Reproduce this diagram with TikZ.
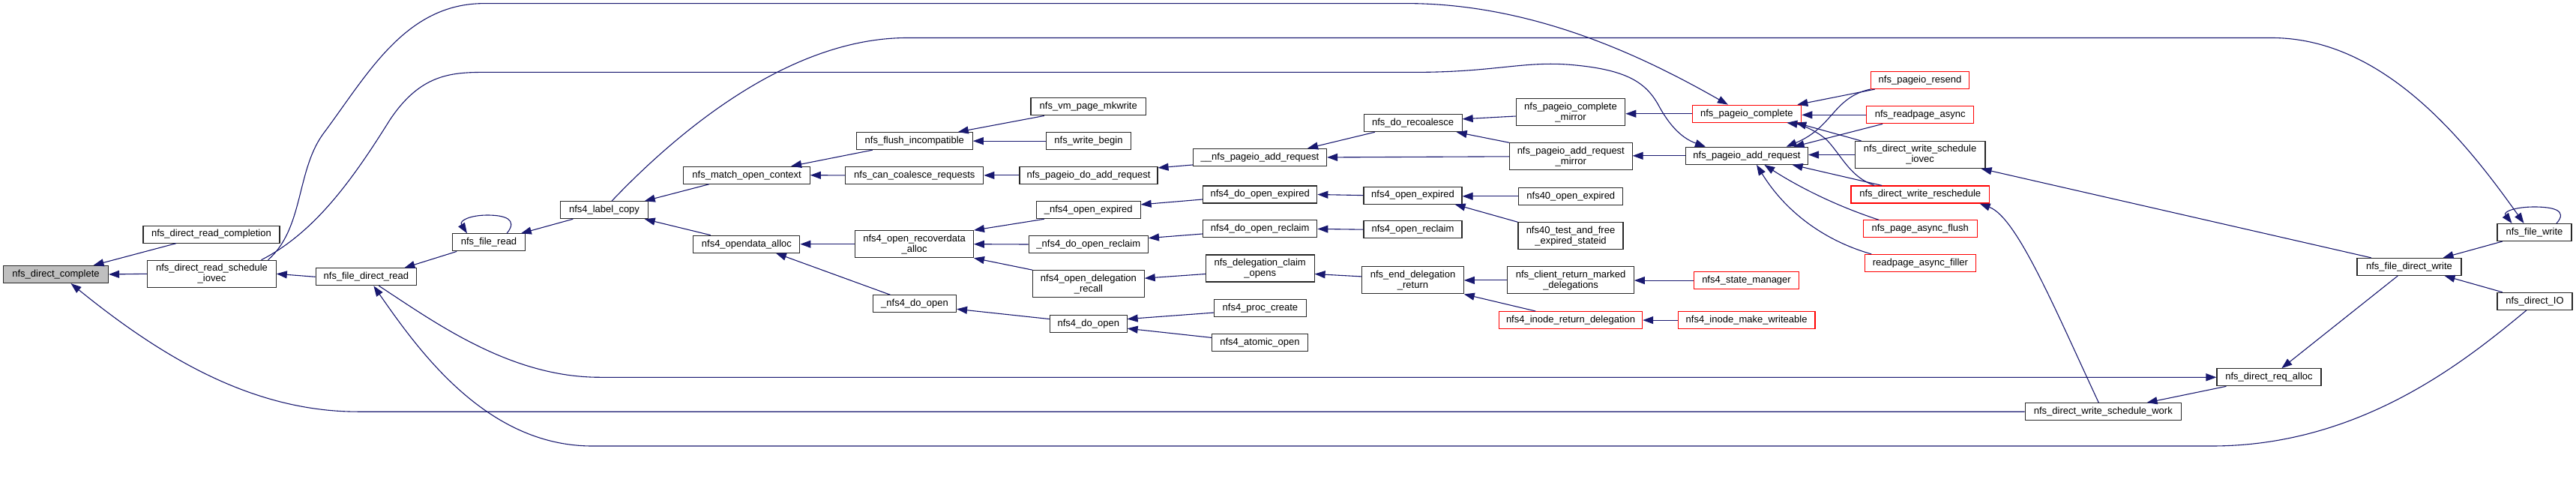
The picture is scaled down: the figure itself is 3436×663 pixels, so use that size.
\documentclass[tikz,border=0pt]{standalone}
\usepackage{fontspec}
\setmainfont{Liberation Sans}
\usetikzlibrary{arrows.meta}
\definecolor{edgeblue}{RGB}{25,25,112}
\definecolor{rootgray}{RGB}{191,191,191}
\definecolor{boxline}{RGB}{40,40,40}
\newcommand\nodefont{\fontsize{13pt}{14pt}\selectfont}
\tikzset{
  nd/.style={draw=boxline, line width=1.1pt, fill=white, inner sep=0pt, minimum height=23pt, font=\nodefont, text=black, align=center},
  nd2/.style={nd, minimum height=36pt},
  rd/.style={nd, draw=red},
  rootnd/.style={nd, fill=rootgray},
  e/.style={draw=edgeblue, line width=1.1pt, -{Triangle[length=14pt,width=10pt]}}
}
\begin{document}
\begin{tikzpicture}[x=1pt,y=-1pt]
\useasboundingbox[fill=white] (0,0) rectangle (3436,663);
% nodes
\node[rootnd, minimum width=140pt] (dc) at (74.5,366) {nfs\_direct\_complete};
\node[nd, minimum width=182pt] (rc) at (282,312.6) {nfs\_direct\_read\_completion};
\node[nd2, minimum width=171.5pt] (rsi) at (282.5,365.3) {nfs\_direct\_read\_schedule\\\_iovec};
\node[nd, minimum width=134.7pt] (fdr) at (488.4,369.3) {nfs\_file\_direct\_read};
\node[nd, minimum width=96.5pt] (fr) at (652,323.4) {nfs\_file\_read};
\node[nd, minimum width=116.4pt] (lc) at (806,280.2) {nfs4\_label\_copy};
\node[nd, minimum width=168.4pt] (moc) at (996.1,233.7) {nfs\_match\_open\_context};
\node[nd, minimum width=142pt] (oda) at (995.9,325.7) {nfs4\_opendata\_alloc};
\node[nd, minimum width=155pt] (fi) at (1219.8,188.1) {nfs\_flush\_incompatible};
\node[nd, minimum width=184pt] (cc) at (1219.8,233.9) {nfs\_can\_coalesce\_requests};
\node[nd2, minimum width=157.6pt] (ra) at (1219.6,325.7) {nfs4\_open\_recoverdata\\\_alloc};
\node[nd, minimum width=111pt] (ud) at (1220,405.3) {\_nfs4\_do\_open};
\node[nd, minimum width=153.5pt] (mk) at (1451.7,142.4) {nfs\_vm\_page\_mkwrite};
\node[nd, minimum width=113.6pt] (wb) at (1452,188.1) {nfs\_write\_begin};
\node[nd, minimum width=184pt] (da) at (1452,233.9) {nfs\_pageio\_do\_add\_request};
\node[nd, minimum width=138.6pt] (uoe) at (1451.8,280.2) {\_nfs4\_open\_expired};
\node[nd, minimum width=159.2pt] (udor) at (1451.8,326) {\_nfs4\_do\_open\_reclaim};
\node[nd2, minimum width=148.5pt] (dr) at (1451.9,378.7) {nfs4\_open\_delegation\\\_recall};
\node[nd, minimum width=102.6pt] (ndo) at (1451.8,432.1) {nfs4\_do\_open};
\node[nd, minimum width=178pt] (ua) at (1680.5,209.9) {\_\_nfs\_pageio\_add\_request};
\node[nd, minimum width=152.3pt] (doe) at (1680.7,259.5) {nfs4\_do\_open\_expired};
\node[nd, minimum width=152.3pt] (dor) at (1680.7,305.4) {nfs4\_do\_open\_reclaim};
\node[nd2, minimum width=144.7pt] (co) at (1680.7,358) {nfs\_delegation\_claim\\\_opens};
\node[nd, minimum width=122.9pt] (pcr) at (1680.9,411.4) {nfs4\_proc\_create};
\node[nd, minimum width=128.2pt] (ao) at (1680.5,457.3) {nfs4\_atomic\_open};
\node[nd, minimum width=131pt] (rec) at (1884.6,164.2) {nfs\_do\_recoalesce};
\node[nd2, minimum width=145.5pt] (cm) at (2095,149.6) {nfs\_pageio\_complete\\\_mirror};
\node[nd2, minimum width=163.5pt] (arm) at (2095.3,208.8) {nfs\_pageio\_add\_request\\\_mirror};
\node[rd, minimum width=145.7pt] (pc) at (2329.9,151.7) {nfs\_pageio\_complete};
\node[nd, minimum width=163pt] (par) at (2330,207.8) {nfs\_pageio\_add\_request};
\node[nd, minimum width=131pt] (noe) at (1884.5,260.6) {nfs4\_open\_expired};
\node[nd, minimum width=139pt] (n40) at (2095.3,261.8) {nfs40\_open\_expired};
\node[nd, minimum width=131pt] (nor) at (1884.5,306.2) {nfs4\_open\_reclaim};
\node[nd2, minimum width=140pt] (tf) at (2095,314.8) {nfs40\_test\_and\_free\\\_expired\_stateid};
\node[nd2, minimum width=135.5pt] (edr) at (1884.5,373.9) {nfs\_end\_delegation\\\_return};
\node[nd2, minimum width=168.4pt] (crm) at (2095.1,373.9) {nfs\_client\_return\_marked\\\_delegations};
\node[rd, minimum width=139.7pt] (sm) at (2329.5,374.1) {nfs4\_state\_manager};
\node[rd, minimum width=191.3pt] (ird) at (2095,427.1) {nfs4\_inode\_return\_delegation};
\node[rd, minimum width=182.8pt] (mw) at (2329.6,427.1) {nfs4\_inode\_make\_writeable};
\node[rd, minimum width=131.3pt] (rs) at (2561,107) {nfs\_pageio\_resend};
\node[rd, minimum width=143.1pt] (rpa) at (2561.2,153.3) {nfs\_readpage\_async};
\node[nd2, minimum width=173.8pt] (wsi) at (2561.1,206.5) {nfs\_direct\_write\_schedule\\\_iovec};
\node[rd, minimum width=184.5pt] (wr) at (2561.2,259.5) {nfs\_direct\_write\_reschedule};
\node[rd, minimum width=152.3pt] (paf) at (2561.2,305.4) {nfs\_page\_async\_flush};
\node[rd, minimum width=148.1pt] (raf) at (2561.4,351) {readpage\_async\_filler};
\node[nd, minimum width=208.2pt] (wsw) at (2805.3,549.2) {nfs\_direct\_write\_schedule\_work};
\node[nd, minimum width=139pt] (rqa) at (3026.5,503.3) {nfs\_direct\_req\_alloc};
\node[nd, minimum width=139pt] (fdw) at (3213.5,355.9) {nfs\_file\_direct\_write};
\node[nd, minimum width=99pt] (fw) at (3380.5,310) {nfs\_file\_write};
\node[nd, minimum width=100pt] (dio) at (3381,401.8) {nfs\_direct\_IO};
% edges
\draw[e] ([xshift=-47pt]rc.south) -- ([xshift=50pt]dc.north);
\draw[e] (rsi.west) -- (dc.east);
\draw[e] (wsw.west) -- (478,549.2) .. controls (340,549.2) and (220,480) .. ([xshift=20pt]dc.south);
\draw[e] (fdr.west) -- (rsi.east);
\draw[e] ([xshift=75pt]rsi.north) .. controls (405,305) and (395,230) .. (430,180) .. controls (490,100) and (540,4.6) .. (646,4.6) -- (1876,4.6) .. controls (2050,4.6) and (2200,80) .. ([xshift=-25pt]pc.north);
\draw[e] ([xshift=66pt]rsi.north) .. controls (420,310) and (470,240) .. (520,160) .. controls (560,100) and (600,96.4) .. (646,96.4) -- (1888,96.4) .. controls (1990,96.4) and (2030,82) .. (2090,86) .. controls (2170,92) and (2195,110) .. (2212,140) .. controls (2228,170) and (2245,185) .. ([xshift=-55pt]par.north);
\draw[e] ([xshift=6pt]fr.south west) -- ([xshift=51pt]fdr.north);
\draw[e] ([xshift=17pt]fdr.south) .. controls (580,430) and (680,503.3) .. (800,503.3) -- (rqa.west);
\draw[e] ([xshift=-11pt]dio.south) .. controls (3290,480) and (3150,595) .. (2950,595) -- (790,595) .. controls (650,595) and (560,470) .. ([xshift=10pt]fdr.south);
\draw[e] ([xshift=24pt]fr.north) .. controls (692,292) and (672,287) .. (650,287) .. controls (628,287) and (612,294) .. ([xshift=-29pt]fr.north);
\draw[e] ([xshift=17pt]lc.south west) -- ([xshift=-6pt]fr.north east);
\draw[e] ([xshift=10pt]lc.north) .. controls (900,180) and (1050,50.5) .. (1210,50.5) -- (3030,50.5) .. controls (3180,50.5) and (3290,190) .. ([xshift=-14pt]fw.north);
\draw[e] ([xshift=29.5pt]fw.north) .. controls (3426,280) and (3404,276) .. (3380,276) .. controls (3356,276) and (3338,282) .. ([xshift=-30pt]fw.north);
\draw[e] ([xshift=34.5pt]moc.south west) -- ([xshift=-5pt]lc.north east);
\draw[e] ([xshift=23.4pt]oda.north west) -- ([xshift=-5pt]lc.south east);
\draw[e] ([xshift=22pt]fi.south west) -- ([xshift=59pt]moc.north);
\draw[e] (cc.west) -- (moc.east);
\draw[e] (ra.west) -- (oda.east);
\draw[e] ([xshift=-32.6pt]ud.north) -- ([xshift=39pt]oda.south);
\draw[e] ([xshift=18.4pt]mk.south west) -- ([xshift=58pt]fi.north);
\draw[e] (wb.west) -- (fi.east);
\draw[e] (da.west) -- (cc.east);
\draw[e] ([yshift=2pt]ua.south west) -- ([yshift=-2pt]da.north east);
\draw[e] ([xshift=10.8pt]uoe.south west) -- (ra.north east);
\draw[e] (udor.west) -- (ra.east);
\draw[e] (dr.north west) -- (ra.south east);
\draw[e] ([yshift=6.5pt]ndo.west) -- ([yshift=-7pt]ud.east);
\draw[e] ([yshift=-6.5pt]doe.west) -- ([yshift=7.3pt]uoe.east);
\draw[e] ([yshift=-6.6pt]dor.west) -- ([yshift=8.4pt]udor.east);
\draw[e] ([yshift=-7.5pt]co.west) -- ([yshift=7.5pt]dr.east);
\draw[e] ([yshift=-5.7pt]pcr.west) -- ([yshift=6.5pt]ndo.east);
\draw[e] ([yshift=6.9pt]ao.west) -- ([yshift=-6.1pt]ndo.east);
\draw[e] ([xshift=15.3pt]rec.south west) -- ([xshift=-26pt]ua.north east);
\draw[e] (arm.west) -- (ua.east);
\draw[e] (noe.west) -- (doe.east);
\draw[e] (nor.west) -- (dor.east);
\draw[e] ([yshift=5pt]edr.west) -- ([yshift=-7.5pt]co.east);
\draw[e] ([yshift=-5.4pt]cm.west) -- ([yshift=5.4pt]rec.east);
\draw[e] (arm.north west) -- ([xshift=-8pt]rec.south east);
\draw[e] (pc.west) -- (pc.west -| cm.east);
\draw[e] (par.west) -- (par.west -| arm.east);
\draw[e] (n40.west) -- (n40.west -| noe.east);
\draw[e] (tf.north west) -- ([xshift=-10pt]noe.south east);
\draw[e] (crm.west) -- (edr.east);
\draw[e] ([xshift=49.4pt]ird.north west) -- (edr.south east);
\draw[e] (sm.west) -- (sm.west -| crm.east);
\draw[e] (mw.west) -- (ird.east);
\draw[e] ([xshift=6pt]rs.south west) -- ([xshift=-6pt]pc.north east);
\draw[e] (rs.south west) .. controls (2445,130) and (2445,170) .. ([xshift=-29.5pt]par.north east);
\draw[e] (rpa.west) -- (rpa.west -| pc.east);
\draw[e] ([xshift=22pt]rpa.south west) -- ([xshift=-19.5pt]par.north east);
\draw[e] ([xshift=9pt]wsi.north west) -- ([xshift=-8pt]pc.south east);
\draw[e] (wsi.west) -- (wsi.west -| par.east);
\draw[e] ([xshift=-61pt]wr.north) .. controls (2468,236) and (2458,210) .. (2437,187) .. controls (2420,172) and (2400,166) .. ([xshift=-20pt]pc.south east);
\draw[e] ([xshift=-51pt]wr.north) -- ([xshift=-21.5pt]par.south east);
\draw[e] ([xshift=21.7pt]paf.north west) .. controls (2450,275) and (2400,250) .. ([xshift=23.3pt]par.south);
\draw[e] ([xshift=9.4pt]raf.north west) .. controls (2430,320) and (2380,280) .. ([xshift=13pt]par.south);
\draw[e] ([xshift=-6pt]wsw.north) .. controls (2740,410) and (2690,290) .. ([xshift=-13.4pt]wr.south east);
\draw[e] ([xshift=19.3pt]fdw.north west) -- ([xshift=-6pt]wsi.south east);
\draw[e] ([xshift=13pt]rqa.south west) -- ([xshift=-46.4pt]wsw.north east);
\draw[e] ([xshift=7.3pt]fw.south west) -- ([xshift=-25pt]fdw.north east);
\draw[e] ([xshift=7.3pt]dio.north west) -- ([xshift=-23pt]fdw.south east);
\draw[e] ([xshift=-15.2pt]fdw.south) -- ([xshift=16.8pt]rqa.north);
\end{tikzpicture}
\end{document}
